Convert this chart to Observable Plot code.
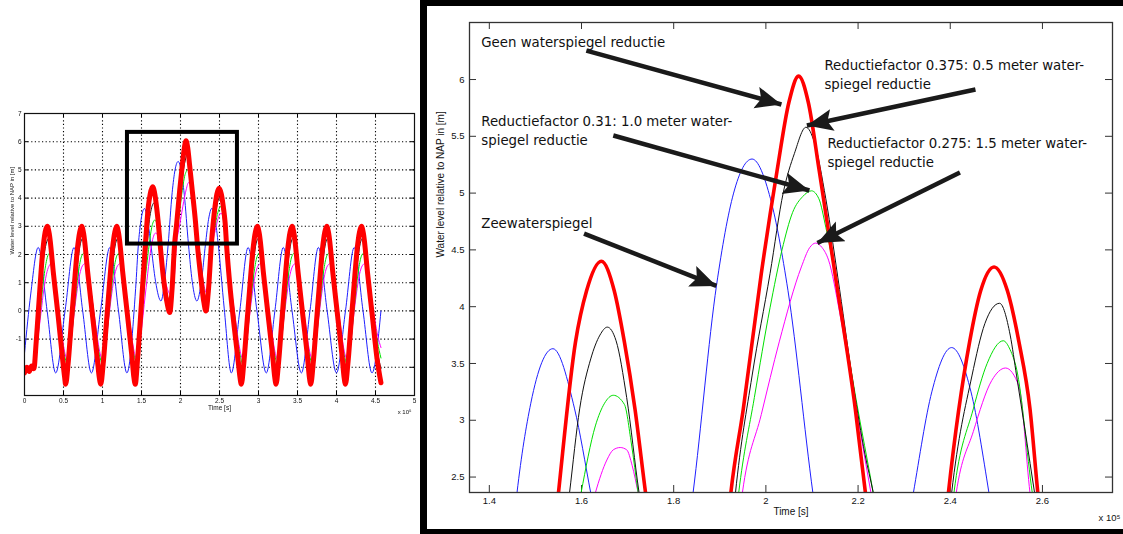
<!DOCTYPE html>
<html><head><meta charset="utf-8">
<script src="https://cdn.jsdelivr.net/npm/d3@7"></script>
<script src="https://cdn.jsdelivr.net/npm/@observablehq/plot@0.6"></script>
<style>
html,body{margin:0;padding:0;background:#fff;}
#root{position:relative;width:1123px;height:534px;overflow:hidden;background:#fff;}
#left{position:absolute;left:0;top:100px;width:420px;height:320px;}
#right{position:absolute;left:420px;top:0;width:703px;height:534px;}
#frame{position:absolute;left:420px;top:0;width:720px;height:534px;box-sizing:border-box;border-left:7px solid #000;border-top:6px solid #000;border-bottom:5px solid #000;pointer-events:none;}
#left svg{filter:blur(0.35px);}
</style></head><body>
<div id="root"><div id="left"></div><div id="right"></div><div id="frame"></div></div>
<script>
// ---- data (time in units of 1e5 s, water level in m relative to NAP) ----
const seaLevel = [ // Zeewaterspiegel (blue)
[0,-1.5],[0.08,0.6],[0.176,2.25],[0.29,0.0],[0.40,-2.2],[0.52,0.0],[0.635,2.25],[0.746,0.0],[0.858,-2.2],[0.975,0.0],[1.094,2.25],[1.205,0.0],[1.313,-2.2],[1.425,0.8],[1.46,2.36],[1.49,3.15],[1.538,3.63],[1.585,3.1],[1.62,2.36],[1.68,1.05],[1.75,0.35],[1.80,1.15],[1.842,2.36],[1.893,4.19],[1.93,5.0],[1.97,5.30],[2.01,4.95],[2.048,4.14],[2.102,2.36],[2.15,1.05],[2.21,0.35],[2.27,1.1],[2.32,2.36],[2.36,3.25],[2.403,3.64],[2.445,3.25],[2.484,2.36],[2.56,0.1],[2.652,-2.2],[2.76,0.0],[2.867,2.25],[2.98,0.0],[3.10,-2.2],[3.21,0.0],[3.318,2.25],[3.43,0.0],[3.55,-2.2],[3.66,0.0],[3.768,2.25],[3.88,0.0],[4.00,-2.2],[4.115,0.0],[4.227,2.25],[4.34,0.0],[4.455,-2.2],[4.57,0.0]
];
const noReduction = [ // Geen waterspiegel reductie (red)
[0,-2.2],[0.03,-2.0],[0.06,-2.15],[0.09,-1.95],[0.12,-2.05],[0.15,-1.1],[0.19,0.5],[0.23,2.0],[0.265,2.8],[0.292,3.0],
[0.317,2.75],[0.372,1.3],[0.432,-0.2],[0.49,-1.75],[0.512,-2.3],[0.528,-2.6],
[0.558,-1.9],[0.598,-0.5],[0.638,0.9],[0.678,2.2],[0.708,2.8],[0.733,3.0],
[0.758,2.75],[0.813,1.3],[0.873,-0.2],[0.933,-1.7],[0.958,-2.35],[0.978,-2.6],
[1.008,-1.9],[1.048,-0.5],[1.088,0.9],[1.128,2.2],[1.158,2.8],[1.182,3.0],
[1.207,2.75],[1.262,1.3],[1.322,-0.2],[1.38,-1.7],[1.402,-2.35],[1.42,-2.6],
[1.45,-1.7],[1.50,0.3],[1.55,2.36],[1.587,3.69],[1.611,4.14],[1.643,4.4],[1.671,4.14],[1.693,3.69],[1.716,3.1],[1.739,2.36],[1.78,1.2],[1.83,0.25],[1.862,-0.06],[1.89,0.7],[1.924,2.36],[1.951,3.1],[1.99,4.29],[2.024,5.19],[2.05,5.8],[2.071,6.03],[2.092,5.8],[2.116,5.19],[2.15,4.29],[2.194,3.1],[2.216,2.36],[2.26,1.2],[2.30,0.3],[2.325,0.0],[2.36,0.8],[2.396,2.36],[2.442,3.69],[2.466,4.14],[2.495,4.35],[2.524,4.14],[2.549,3.69],[2.573,3.1],[2.59,2.36],[2.63,1.0],[2.69,-0.6],[2.74,-1.8],[2.762,-2.35],[2.78,-2.6],
[2.81,-1.9],[2.85,-0.5],[2.89,0.9],[2.93,2.2],[2.96,2.8],[2.985,3.0],
[3.01,2.75],[3.065,1.3],[3.125,-0.2],[3.185,-1.7],[3.208,-2.35],[3.225,-2.6],
[3.255,-1.9],[3.295,-0.5],[3.335,0.9],[3.375,2.2],[3.405,2.8],[3.43,3.0],
[3.455,2.75],[3.51,1.3],[3.57,-0.2],[3.63,-1.7],[3.652,-2.35],[3.67,-2.6],
[3.70,-1.9],[3.74,-0.5],[3.78,0.9],[3.82,2.2],[3.85,2.8],[3.875,3.0],
[3.90,2.75],[3.955,1.3],[4.015,-0.2],[4.075,-1.7],[4.097,-2.35],[4.115,-2.6],
[4.145,-1.9],[4.185,-0.5],[4.225,0.9],[4.265,2.2],[4.295,2.8],[4.32,3.0],
[4.345,2.75],[4.40,1.3],[4.46,-0.2],[4.52,-1.7],[4.57,-2.55]
];
const factor0375 = [ // 0.5 m reductie (black)
[0,-2.15],[0.06,-2.1],[0.12,-2.0],[0.16,-1.1],[0.2,0.4],[0.24,1.75],[0.28,2.4],[0.31,2.58],
[0.335,2.35],[0.378,1.25],[0.438,-0.15],[0.488,-1.35],[0.528,-2.1],[0.548,-2.2],[0.578,-1.6],[0.608,-0.6],[0.648,0.7],[0.688,1.85],[0.718,2.4],[0.748,2.58],
[0.778,2.35],[0.828,1.25],[0.888,-0.15],[0.938,-1.35],[0.978,-2.1],[0.998,-2.2],[1.028,-1.6],[1.058,-0.6],[1.098,0.7],[1.138,1.85],[1.168,2.4],[1.198,2.58],
[1.225,2.35],[1.27,1.25],[1.33,-0.15],[1.38,-1.35],[1.42,-2.1],[1.44,-2.2],[1.47,-1.5],[1.52,0.5],[1.574,2.36],[1.596,3.1],[1.62,3.54],[1.64,3.75],[1.656,3.82],[1.675,3.7],[1.698,3.2],[1.725,2.36],[1.78,1.3],[1.83,0.45],[1.87,0.1],[1.90,0.7],[1.934,2.36],[1.97,3.39],[2.009,4.29],[2.038,5.01],[2.062,5.35],[2.087,5.58],[2.105,5.45],[2.13,4.95],[2.16,4.15],[2.19,3.3],[2.215,2.7],[2.233,2.36],[2.27,1.4],[2.305,0.5],[2.335,0.1],[2.37,0.9],[2.403,2.36],[2.447,3.39],[2.475,3.85],[2.507,4.03],[2.53,3.75],[2.544,3.39],[2.583,2.36],[2.63,1.1],[2.69,-0.2],[2.74,-1.35],[2.78,-2.1],[2.80,-2.2],[2.83,-1.6],[2.86,-0.6],[2.90,0.7],[2.94,1.85],[2.97,2.4],[3.0,2.58],
[3.025,2.35],[3.075,1.25],[3.135,-0.15],[3.185,-1.35],[3.225,-2.1],[3.245,-2.2],[3.275,-1.6],[3.305,-0.6],[3.345,0.7],[3.385,1.85],[3.415,2.4],[3.445,2.58],
[3.47,2.35],[3.52,1.25],[3.58,-0.15],[3.63,-1.35],[3.67,-2.1],[3.69,-2.2],[3.72,-1.6],[3.75,-0.6],[3.79,0.7],[3.83,1.85],[3.86,2.4],[3.89,2.58],
[3.915,2.35],[3.965,1.25],[4.025,-0.15],[4.075,-1.35],[4.115,-2.1],[4.135,-2.2],[4.165,-1.6],[4.195,-0.6],[4.235,0.7],[4.275,1.85],[4.305,2.4],[4.335,2.58],
[4.36,2.35],[4.41,1.25],[4.47,-0.15],[4.52,-1.35],[4.57,-2.05]
];
const factor031 = [ // 1.0 m reductie (green)
[0,-2.1],[0.06,-2.05],[0.12,-1.95],[0.165,-1.1],[0.2,-0.1],[0.24,1.0],[0.28,1.75],[0.305,2.0],[0.325,2.05],
[0.36,1.75],[0.39,1.0],[0.448,-0.3],[0.493,-1.3],[0.528,-1.75],[0.553,-1.95],[0.583,-1.5],[0.618,-0.5],[0.658,0.6],[0.698,1.5],[0.733,1.95],[0.763,2.05],
[0.793,1.85],[0.838,1.0],[0.898,-0.3],[0.943,-1.3],[0.978,-1.75],[1.003,-1.95],[1.033,-1.5],[1.068,-0.5],[1.108,0.6],[1.148,1.5],[1.183,1.95],[1.213,2.05],
[1.235,1.85],[1.28,1.0],[1.34,-0.3],[1.385,-1.3],[1.42,-1.75],[1.445,-1.95],[1.48,-1.1],[1.53,0.6],[1.599,2.36],[1.63,2.95],[1.65,3.15],[1.669,3.22],[1.693,3.14],[1.708,2.8],[1.723,2.36],[1.78,1.25],[1.83,0.55],[1.875,0.3],[1.905,0.8],[1.941,2.36],[1.975,3.2],[2.009,3.99],[2.035,4.5],[2.058,4.83],[2.08,4.97],[2.099,5.02],[2.115,4.95],[2.13,4.7],[2.16,4.05],[2.195,3.2],[2.233,2.36],[2.275,1.35],[2.31,0.6],[2.34,0.3],[2.375,0.9],[2.408,2.36],[2.45,3.1],[2.48,3.5],[2.515,3.70],[2.53,3.62],[2.544,3.45],[2.578,2.36],[2.64,1.0],[2.70,-0.3],[2.745,-1.3],[2.78,-1.75],[2.805,-1.95],[2.835,-1.5],[2.87,-0.5],[2.91,0.6],[2.95,1.5],[2.985,1.95],[3.015,2.05],
[3.04,1.85],[3.085,1.0],[3.145,-0.3],[3.19,-1.3],[3.225,-1.75],[3.25,-1.95],[3.28,-1.5],[3.315,-0.5],[3.355,0.6],[3.395,1.5],[3.43,1.95],[3.46,2.05],
[3.485,1.85],[3.53,1.0],[3.59,-0.3],[3.635,-1.3],[3.67,-1.75],[3.695,-1.95],[3.725,-1.5],[3.76,-0.5],[3.80,0.6],[3.84,1.5],[3.875,1.95],[3.905,2.05],
[3.93,1.85],[3.975,1.0],[4.035,-0.3],[4.08,-1.3],[4.115,-1.75],[4.14,-1.95],[4.17,-1.5],[4.205,-0.5],[4.245,0.6],[4.285,1.5],[4.32,1.95],[4.35,2.05],
[4.375,1.85],[4.42,1.0],[4.48,-0.3],[4.525,-1.1],[4.57,-1.67]
];
const factor0275 = [ // 1.5 m reductie (magenta)
[0,-2.0],[0.06,-1.95],[0.12,-1.9],[0.17,-1.0],[0.21,-0.1],[0.25,0.8],[0.29,1.4],[0.32,1.62],[0.345,1.68],
[0.375,1.45],[0.408,0.6],[0.458,-0.4],[0.498,-1.2],[0.528,-1.6],[0.558,-1.75],[0.588,-1.3],[0.628,-0.3],[0.668,0.6],[0.708,1.3],[0.743,1.6],[0.778,1.68],
[0.808,1.5],[0.858,0.6],[0.908,-0.4],[0.948,-1.2],[0.978,-1.6],[1.008,-1.75],[1.038,-1.3],[1.078,-0.3],[1.118,0.6],[1.158,1.3],[1.193,1.6],[1.228,1.68],
[1.25,1.5],[1.30,0.6],[1.35,-0.4],[1.39,-1.2],[1.42,-1.6],[1.45,-1.75],[1.49,-0.9],[1.55,0.6],[1.63,2.36],[1.655,2.65],[1.669,2.74],[1.684,2.76],[1.698,2.74],[1.71,2.6],[1.723,2.36],[1.78,1.4],[1.83,0.8],[1.88,0.55],[1.915,1.0],[1.949,2.36],[1.99,3.05],[2.029,3.69],[2.077,4.35],[2.095,4.52],[2.108,4.56],[2.122,4.52],[2.136,4.41],[2.16,3.95],[2.184,3.39],[2.228,2.36],[2.27,1.45],[2.31,0.8],[2.345,0.6],[2.38,1.1],[2.413,2.36],[2.45,2.9],[2.49,3.35],[2.52,3.46],[2.549,3.3],[2.573,2.36],[2.66,0.6],[2.71,-0.4],[2.75,-1.2],[2.78,-1.6],[2.81,-1.75],[2.84,-1.3],[2.88,-0.3],[2.92,0.6],[2.96,1.3],[2.995,1.6],[3.03,1.68],
[3.055,1.5],[3.105,0.6],[3.155,-0.4],[3.195,-1.2],[3.225,-1.6],[3.255,-1.75],[3.285,-1.3],[3.325,-0.3],[3.365,0.6],[3.405,1.3],[3.44,1.6],[3.475,1.68],
[3.50,1.5],[3.55,0.6],[3.60,-0.4],[3.64,-1.2],[3.67,-1.6],[3.70,-1.75],[3.73,-1.3],[3.77,-0.3],[3.81,0.6],[3.85,1.3],[3.885,1.6],[3.92,1.68],
[3.945,1.5],[3.995,0.6],[4.045,-0.4],[4.085,-1.2],[4.115,-1.6],[4.145,-1.75],[4.175,-1.3],[4.215,-0.3],[4.255,0.6],[4.295,1.3],[4.33,1.6],[4.365,1.68],
[4.39,1.5],[4.44,0.6],[4.49,-0.3],[4.53,-0.9],[4.57,-1.3]
];

// axes / ticks
const leftXTicks = [0,0.5,1,1.5,2,2.5,3,3.5,4,4.5,5];
const leftYTicks = [-1,0,1,2,3,4,5,6,7];
const leftYGrid = [-2,-1,0,1,2,3,4,5,6];
const rightXTicks = [1.4,1.6,1.8,2,2.2,2.4,2.6];
const rightYTicks = [2.5,3,3.5,4,4.5,5,5.5,6];
const zoomBox = [{x1:1.32, x2:2.73, y1:2.37, y2:6.33}];

// texts
const yLabel = "Water level relative to NAP in [m]";
const xLabel = "Time [s]";
const xExponent = "x 10\u2075";
const annotText = [
  "Geen waterspiegel reductie",
  "Reductiefactor 0.375: 0.5 meter water-\nspiegel reductie",
  "Reductiefactor 0.31: 1.0 meter water-\nspiegel reductie",
  "Reductiefactor 0.275: 1.5 meter water-\nspiegel reductie",
  "Zeewaterspiegel"
];
const annotX = [1.3826, 2.127, 1.3826, 2.1335, 1.3826];
const annotY = [6.343, 6.057, 5.56, 5.366, 4.75];
const arrowX1 = [1.6105, 2.4547, 1.669, 2.421, 1.6055];
const arrowY1 = [6.255, 5.912, 5.507, 5.181, 4.644];
const arrowX2 = [2.0337, 2.089, 2.0944, 2.1118, 1.8926];
const arrowY2 = [5.78, 5.595, 5.023, 4.561, 4.183];

const series = [
  {data: seaLevel, color: "#1f1fff"},
  {data: factor0275, color: "#ff00ff"},
  {data: factor031, color: "#00e000"},
  {data: factor0375, color: "#111111"},
  {data: noReduction, color: "#ff0000", thick: true}
];
const fx = d => d[0], fy = d => d[1];
const font = "'Liberation Sans', Arial, Helvetica, sans-serif";

// ---- left overview plot ----
const LH = 320 - 13 - 25, LW = 420 - 24 - 6;
const leftPlot = Plot.plot({
  width: 420, height: 320,
  marginLeft: 24, marginRight: 6, marginTop: 13, marginBottom: 25,
  style: {fontFamily: font, fontSize: "6.5px", color: "#111", background: "transparent"},
  x: {domain: [0, 5], ticks: leftXTicks, tickFormat: d => String(d), tickSize: 0, tickPadding: 3, label: null},
  y: {domain: [-3, 7], ticks: leftYTicks, tickFormat: d => String(d), tickSize: 0, tickPadding: 3, label: null},
  marks: [
    Plot.ruleX(leftXTicks.slice(1, -1), {stroke: "#000", strokeWidth: 1.1, strokeDasharray: "1.2,2.4"}),
    Plot.ruleY(leftYGrid, {stroke: "#000", strokeWidth: 1.1, strokeDasharray: "1.2,2.4"}),
    Plot.tickX(leftXTicks, {x: d => d, insetTop: LH - 4, stroke: "#000"}),
    Plot.tickX(leftXTicks, {x: d => d, insetBottom: LH - 4, stroke: "#000"}),
    Plot.tickY(leftYGrid, {y: d => d, insetRight: LW - 4, stroke: "#000"}),
    Plot.tickY(leftYGrid, {y: d => d, insetLeft: LW - 4, stroke: "#000"}),
    ...series.map(s => Plot.line(s.data, {x: fx, y: fy, stroke: s.color, strokeWidth: s.thick ? 5 : 1, curve: "monotone-x", clip: true})),
    Plot.rect(zoomBox, {x1: "x1", x2: "x2", y1: "y1", y2: "y2", fill: "none", stroke: "#000", strokeWidth: 4}),
    Plot.frame({stroke: "#111", strokeWidth: 1.2}),
    Plot.text([xLabel], {text: d => d, frameAnchor: "bottom", dy: 14, fontSize: 6.5}),
    Plot.text([xExponent], {text: d => d, frameAnchor: "bottom-right", dy: 18, dx: -3, textAnchor: "end", fontSize: 6}),
    Plot.text([yLabel], {text: d => d, frameAnchor: "left", rotate: -90, dx: -12.5, fontSize: 6})
  ]
});
document.getElementById("left").appendChild(leftPlot);

// ---- right zoomed plot ----
const RH = 534 - 22 - 42, RW = 703 - 49 - 11;
const annotations = annotText.map((t, i) => ({t, x: annotX[i], y: annotY[i]}));
const arrows = arrowX1.map((x, i) => ({x1: x, y1: arrowY1[i], x2: arrowX2[i], y2: arrowY2[i]}));
const narrow = "'Liberation Sans Narrow', 'Arial Narrow', 'DejaVu Sans Condensed', sans-serif";
const rightPlot = Plot.plot({
  width: 703, height: 534,
  marginLeft: 49, marginRight: 11, marginTop: 22, marginBottom: 42,
  style: {fontFamily: font, fontSize: "9.5px", color: "#111", background: "transparent"},
  x: {domain: [1.357, 2.752], ticks: rightXTicks, tickFormat: d => String(d), tickSize: 0, tickPadding: 5, label: null},
  y: {domain: [2.364, 6.502], ticks: rightYTicks, tickFormat: d => String(d), tickSize: 0, tickPadding: 5, label: null},
  marks: [
    Plot.tickX(rightXTicks, {x: d => d, insetTop: RH - 7, stroke: "#333"}),
    Plot.tickX(rightXTicks, {x: d => d, insetBottom: RH - 7, stroke: "#333"}),
    Plot.tickY(rightYTicks, {y: d => d, insetRight: RW - 7, stroke: "#333"}),
    Plot.tickY(rightYTicks, {y: d => d, insetLeft: RW - 7, stroke: "#333"}),
    ...series.map(s => Plot.line(s.data, {x: fx, y: fy, stroke: s.color, strokeWidth: s.thick ? 3.6 : 1, curve: "monotone-x", clip: true})),
    Plot.frame({stroke: "#333", strokeWidth: 1.3}),
    Plot.text(annotations, {x: "x", y: "y", text: "t", textAnchor: "start", lineAnchor: "middle", lineHeight: 1.3, fontFamily: narrow, fontSize: 14.8, fill: "#111"}),
    Plot.link(arrows, {x1: "x1", y1: "y1", x2: "x2", y2: "y2", stroke: "#1a1a1a", strokeWidth: 4.5}),
    Plot.text([xLabel], {text: d => d, frameAnchor: "bottom", dy: 22, fontSize: 10}),
    Plot.text([xExponent], {text: d => d, frameAnchor: "bottom-right", dy: 28, dx: 8, textAnchor: "end", fontSize: 9.5}),
    Plot.text([yLabel], {text: d => d, frameAnchor: "left", rotate: -90, dx: -29, fontSize: 10})
  ]
});
document.getElementById("right").appendChild(rightPlot);

// filled arrowheads on the annotation arrows
const rs = d3.select(rightPlot);
rs.append("defs").append("marker")
  .attr("id", "arrowhead").attr("markerUnits", "userSpaceOnUse")
  .attr("markerWidth", 28).attr("markerHeight", 24).attr("refX", 26).attr("refY", 11)
  .attr("orient", "auto")
  .append("path").attr("d", "M0,0L26,11L0,22L5,11Z").attr("fill", "#1a1a1a");
rs.selectAll('g[aria-label="link"] path').attr("marker-end", "url(#arrowhead)");
</script>
</body></html>
